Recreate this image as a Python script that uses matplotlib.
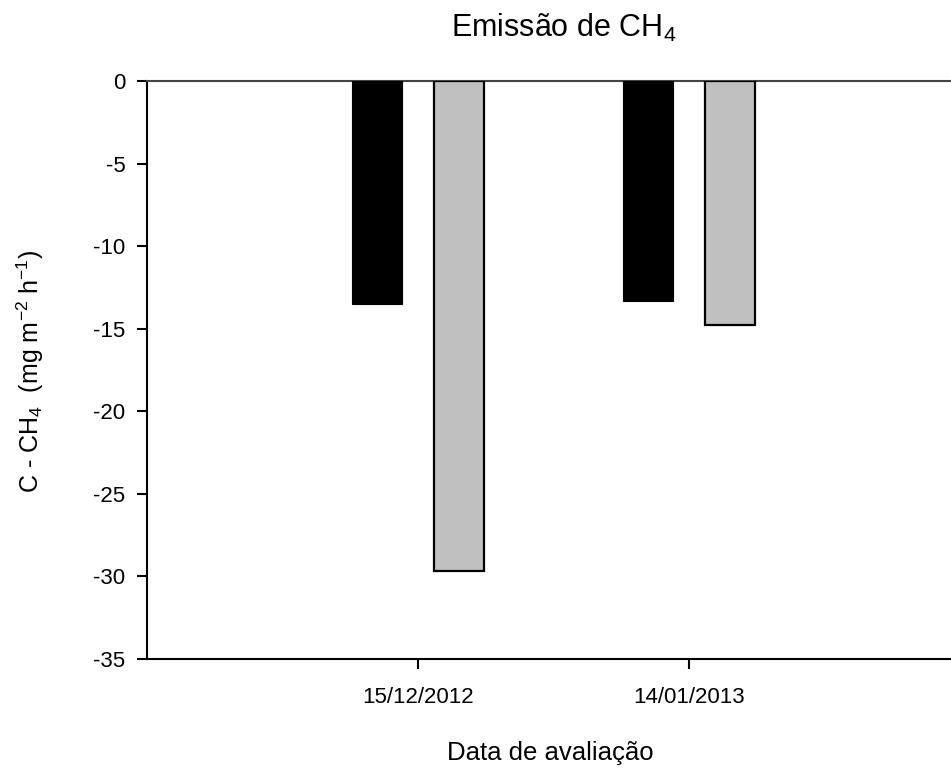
import matplotlib
matplotlib.use("Agg")
import matplotlib.pyplot as plt
import numpy as np

plt.rcParams['font.family'] = ['Liberation Sans', 'DejaVu Sans']
plt.rcParams['mathtext.fontset'] = 'custom'
plt.rcParams['mathtext.rm'] = 'Liberation Sans'
plt.rcParams['mathtext.it'] = 'Liberation Sans'
plt.rcParams['mathtext.default'] = 'regular'

categories = ["15/12/2012", "14/01/2013"]
series_black = [-13.5, -13.35]
series_gray = [-29.65, -14.75]
yticks = [0, -5, -10, -15, -20, -25, -30, -35]

fig = plt.figure(figsize=(9.51, 7.71), dpi=100)
W, H = 951, 771
ax = fig.add_axes([147 / W, 1 - 659 / H, (951 - 147) / W, (659 - 81) / H])

x = np.arange(1, len(categories) + 1)
bw = 0.185
off = 0.151
ax.bar(x - off, series_black, width=bw, color='black', edgecolor='black', linewidth=0.8, zorder=3)
ax.bar(x + off, series_gray, width=bw, color='#C0C0C0', edgecolor='black', linewidth=1.6, zorder=3)

ax.set_xlim(0, 2.967)
ax.set_ylim(-35, 0)
ax.set_xticks(x)
ax.set_xticklabels(categories)
ax.set_yticks(yticks)
ax.set_yticklabels([str(v) for v in yticks])

for s in ['left', 'bottom', 'top']:
    ax.spines[s].set_linewidth(1.5)
ax.spines['right'].set_visible(False)
ax.spines['top'].set_color('#444444')

ax.tick_params(axis='y', direction='out', length=7, width=1.5, pad=8.5, labelsize=16)
ax.tick_params(axis='x', direction='out', length=7, width=1.5, pad=13, labelsize=16)

fig.text(564 / W, 1 - 37 / H, 'Emissão de CH$_4$', fontsize=22, ha='center', va='baseline')
fig.text(550 / W, 1 - 760 / H, 'Data de avaliação', fontsize=18.5, ha='center', va='baseline')
fig.text(30 / W, 1 - 371 / H, 'C - CH$_4$  (mg m$^{-2}$ h$^{-1}$)', fontsize=18,
         ha='center', va='center', rotation=90)

fig.savefig('out.png', dpi=100)
